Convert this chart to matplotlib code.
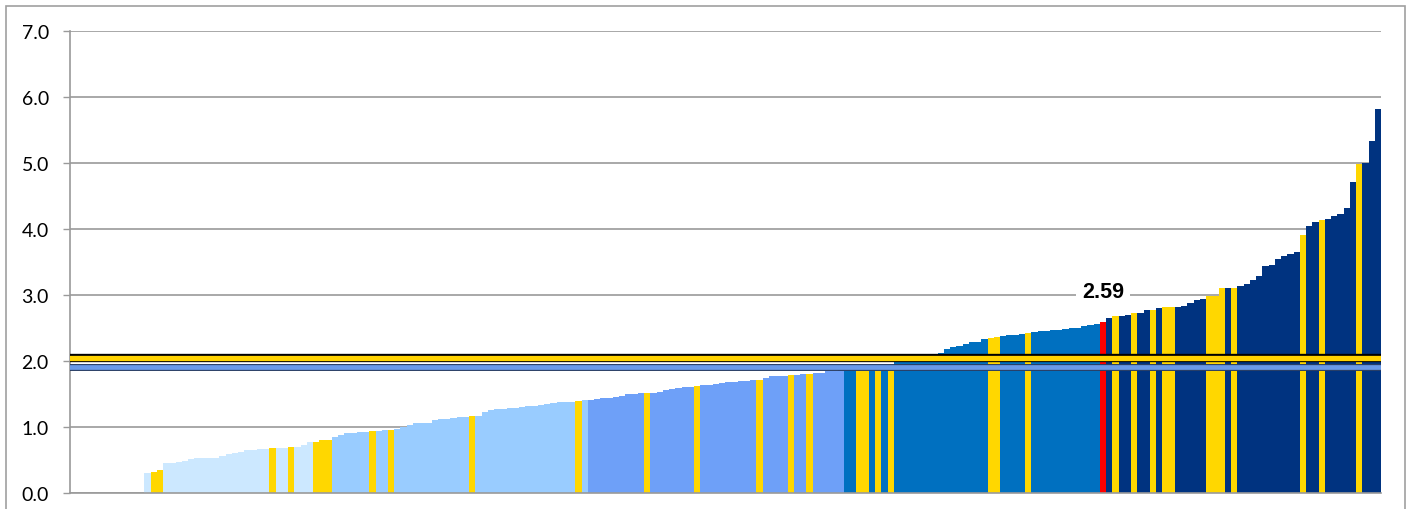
import matplotlib
matplotlib.use('Agg')
from matplotlib import pyplot as plt
from matplotlib.patches import Rectangle
import numpy as np

# sorted scores, one per bar; the first slots have no value
N_EMPTY = 12
scores = [
    0.30, 0.31, 0.34, 0.455, 0.455, 0.46, 0.485, 0.51, 0.52, 0.525,
    0.525, 0.53, 0.555, 0.585, 0.605, 0.62, 0.64, 0.65, 0.655, 0.66,
    0.68, 0.685, 0.685, 0.69, 0.70, 0.73, 0.77, 0.775, 0.80, 0.80,
    # band 2
    0.84, 0.88, 0.905, 0.91, 0.915, 0.925, 0.935, 0.94, 0.945, 0.95,
    0.97, 1.00, 1.025, 1.055, 1.06, 1.06, 1.10, 1.115, 1.12, 1.14,
    1.155, 1.155, 1.16, 1.16, 1.22, 1.25, 1.265, 1.27, 1.285, 1.29,
    1.30, 1.315, 1.32, 1.335, 1.34, 1.36, 1.375, 1.38, 1.38, 1.385,
    1.40,
    # band 3
    1.41, 1.415, 1.43, 1.43, 1.455, 1.46, 1.49, 1.50, 1.505, 1.505,
    1.515, 1.52, 1.56, 1.565, 1.59, 1.605, 1.61, 1.62, 1.63, 1.635,
    1.655, 1.67, 1.675, 1.68, 1.69, 1.69, 1.71, 1.715, 1.735, 1.765,
    1.77, 1.775, 1.78, 1.79, 1.795, 1.805, 1.815, 1.82, 1.84, 1.845,
    1.86,
    # band 4
    1.88, 1.885, 1.89, 1.895, 1.90, 1.91, 1.92, 1.93, 1.975, 1.98,
    1.99, 2.00, 2.02, 2.04, 2.07, 2.12, 2.18, 2.21, 2.22, 2.25,
    2.28, 2.29, 2.33, 2.35, 2.365, 2.38, 2.39, 2.395, 2.41, 2.42,
    2.43, 2.45, 2.455, 2.465, 2.47, 2.48, 2.49, 2.495, 2.52, 2.54,
    2.565, 2.59,
    # band 5
    2.65, 2.68, 2.685, 2.70, 2.725, 2.725, 2.77, 2.77, 2.80, 2.81,
    2.81, 2.82, 2.835, 2.87, 2.92, 2.935, 2.985, 2.985, 3.10, 3.11,
    3.11, 3.13, 3.16, 3.23, 3.28, 3.435, 3.455, 3.545, 3.59, 3.625,
    3.645, 3.91, 4.045, 4.11, 4.135, 4.145, 4.19, 4.22, 4.32, 4.71,
    4.98, 5.005, 5.325, 5.815,
]

# colour group of each bar: 1-5 = band, y = highlighted, r = selected
groups = (
    '1yy' + '1' * 17 + 'y11y111yyy'
    + '222222y22y' + '2' * 12 + 'y' + '2' * 16 + 'y2'
    + '3' * 9 + 'y' + '3' * 7 + 'y' + '3' * 9 + 'y' + '3' * 4 + 'y33y' + '3' * 5
    + '44yy4y4y' + '4' * 15 + 'yy4444y' + '4' * 11 + 'r'
    + '5y55y55y5yy' + '5' * 5 + 'yyy5y' + '5' * 10 + 'y55y' + '5' * 5 + 'y555'
)

band_colors = {
    '1': '#CCE8FF',
    '2': '#99CCFF',
    '3': '#6EA0F8',
    '4': '#0070C0',
    '5': '#003380',
    'y': '#FFD700',
    'r': '#FF0000',
}

EU_AVG = 2.04
OTHER_AVG = 1.91
SELECTED_LABEL = '2.59'


def main():
    fig = plt.figure(figsize=(14.1, 5.1), dpi=100)
    ax = fig.add_axes([69.5 / 1410, 16.3 / 510, 1311.5 / 1410, 461.7 / 510])

    x = np.arange(N_EMPTY, N_EMPTY + len(scores))
    colors = [band_colors[g] for g in groups]
    ax.bar(x, scores, width=1.0, align='edge', color=colors, linewidth=0, zorder=2)

    # reference lines with dark outline
    ax.axhline(EU_AVG, color='black', linewidth=6.0, zorder=4)
    ax.axhline(EU_AVG, color='#FFD200', linewidth=3.8, zorder=5)
    ax.axhline(OTHER_AVG, color='#2A3F66', linewidth=5.0, zorder=4)
    ax.axhline(OTHER_AVG, color='#6A9AE8', linewidth=3.4, zorder=5)

    sel = groups.index('r') + N_EMPTY
    ax.text(sel + 0.5, 3.05, SELECTED_LABEL, ha='center', va='center',
            fontsize=15.5, fontweight='bold', family='Liberation Sans',
            bbox=dict(facecolor='white', edgecolor='none', pad=4), zorder=6)

    ax.set_xlim(0, N_EMPTY + len(scores))
    ax.set_ylim(0, 7)
    ax.set_yticks(np.arange(0, 8, 1))
    ax.set_yticklabels(['{:.1f}'.format(v) for v in range(8)],
                       fontsize=14, family='Lato')
    ax.set_xticks([])
    ax.grid(axis='y', color='#9A9A9A', linewidth=1.2, zorder=0)
    ax.set_axisbelow(True)
    ax.tick_params(axis='y', length=5.4, width=1, color='#9A9A9A', pad=9.5)
    for side in ['top', 'right']:
        ax.spines[side].set_visible(False)
    ax.spines['left'].set_color('#9A9A9A')
    ax.spines['left'].set_linewidth(1.2)
    ax.spines['bottom'].set_color('#9A9A9A')
    ax.spines['bottom'].set_linewidth(1.2)

    # chart border
    fig.patches.append(Rectangle((6 / 1410, -0.05), 1399 / 1410, 1.05 - 7 / 510,
                                 transform=fig.transFigure, fill=False,
                                 edgecolor='#A0A0A0', linewidth=1.2))

    fig.savefig('out.png', dpi=100)


if __name__ == '__main__':
    main()
